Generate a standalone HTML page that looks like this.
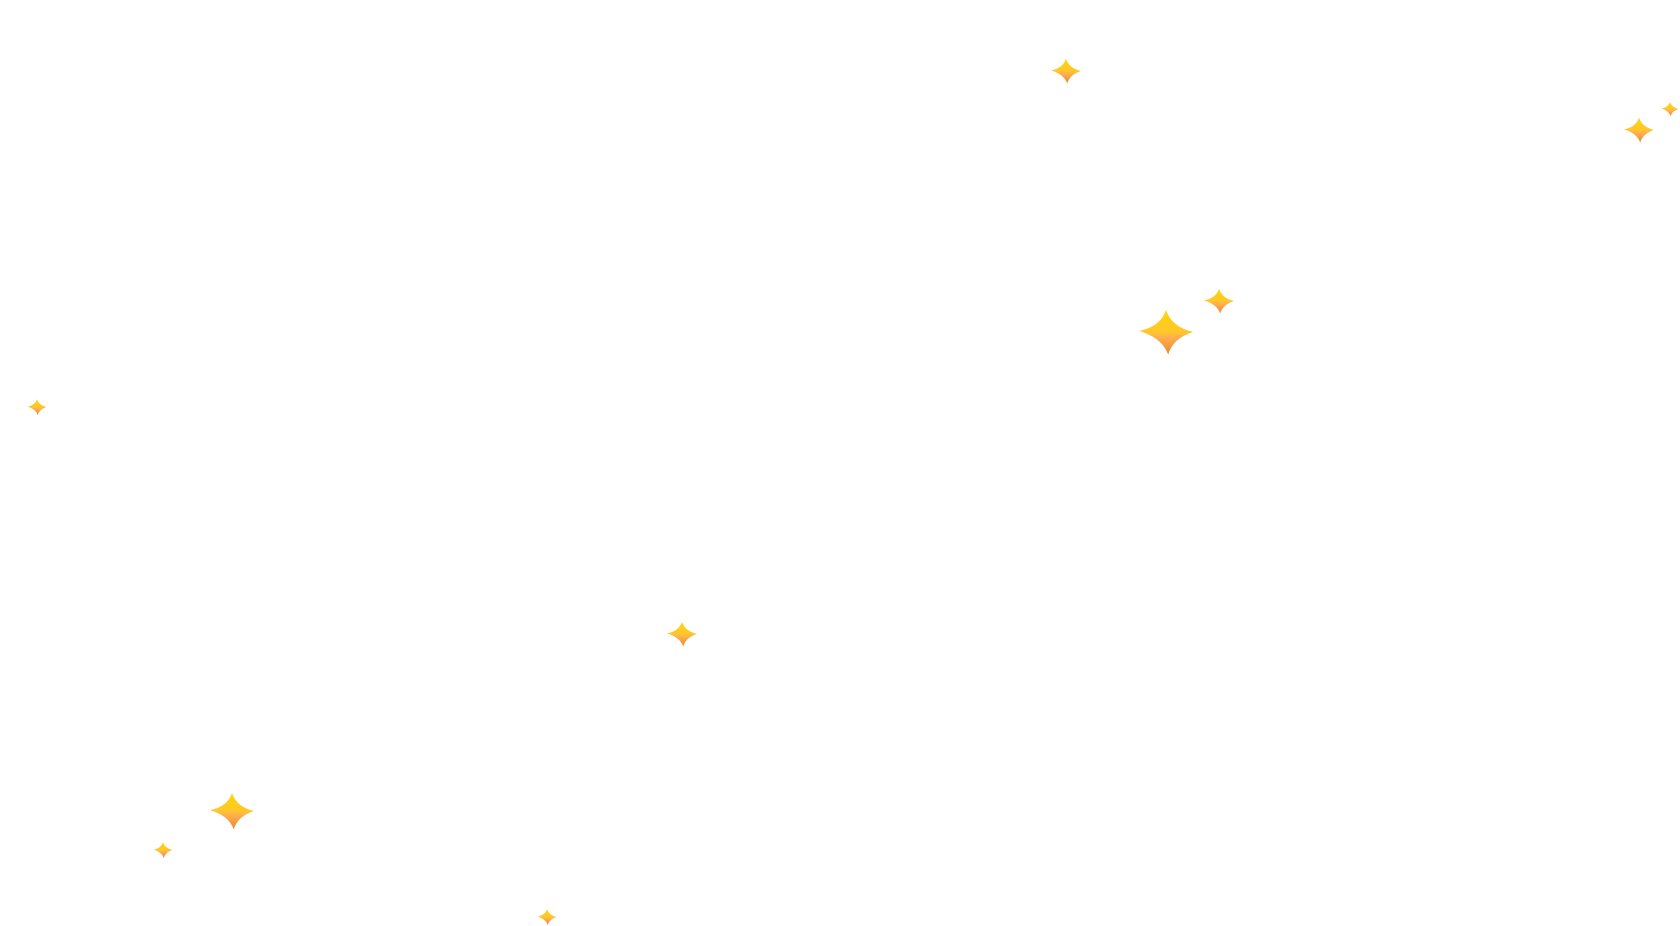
<!DOCTYPE html>
<html><head><meta charset="utf-8"><style>
html,body{margin:0;padding:0;background:#fff;width:1680px;height:926px;overflow:hidden}
svg{display:block}
</style></head><body>
<svg width="1680" height="926" viewBox="0 0 1680 926" xmlns="http://www.w3.org/2000/svg">
<defs>
<linearGradient id="g" x1="0" y1="0" x2="0" y2="1">
<stop offset="0" stop-color="#ffd60a"/>
<stop offset="0.5" stop-color="#ffc62a"/>
<stop offset="0.6" stop-color="#ffb050"/>
<stop offset="1" stop-color="#e8892a"/>
</linearGradient>
<path id="s" d="M0,-0.82 Q0.2,-0.2 1,0 Q0.25,0.24 0.08,0.84 Q-0.13,0.22 -1,-0.04 Q-0.2,-0.2 0,-0.82Z" fill="url(#g)"/>
</defs>
<use href="#s" transform="translate(1066,71) scale(15)"/>
<use href="#s" transform="translate(1639,130) scale(15)"/>
<use href="#s" transform="translate(1670,109) scale(8.5)"/>
<use href="#s" transform="translate(1219,301) scale(15)"/>
<use href="#s" transform="translate(1166,332) scale(27)"/>
<use href="#s" transform="translate(37,407) scale(9.5)"/>
<use href="#s" transform="translate(682,634) scale(15)"/>
<use href="#s" transform="translate(232,811) scale(22)"/>
<use href="#s" transform="translate(163,850) scale(9.5)"/>
<use href="#s" transform="translate(547,917) scale(9.5)"/>
</svg>
</body></html>
